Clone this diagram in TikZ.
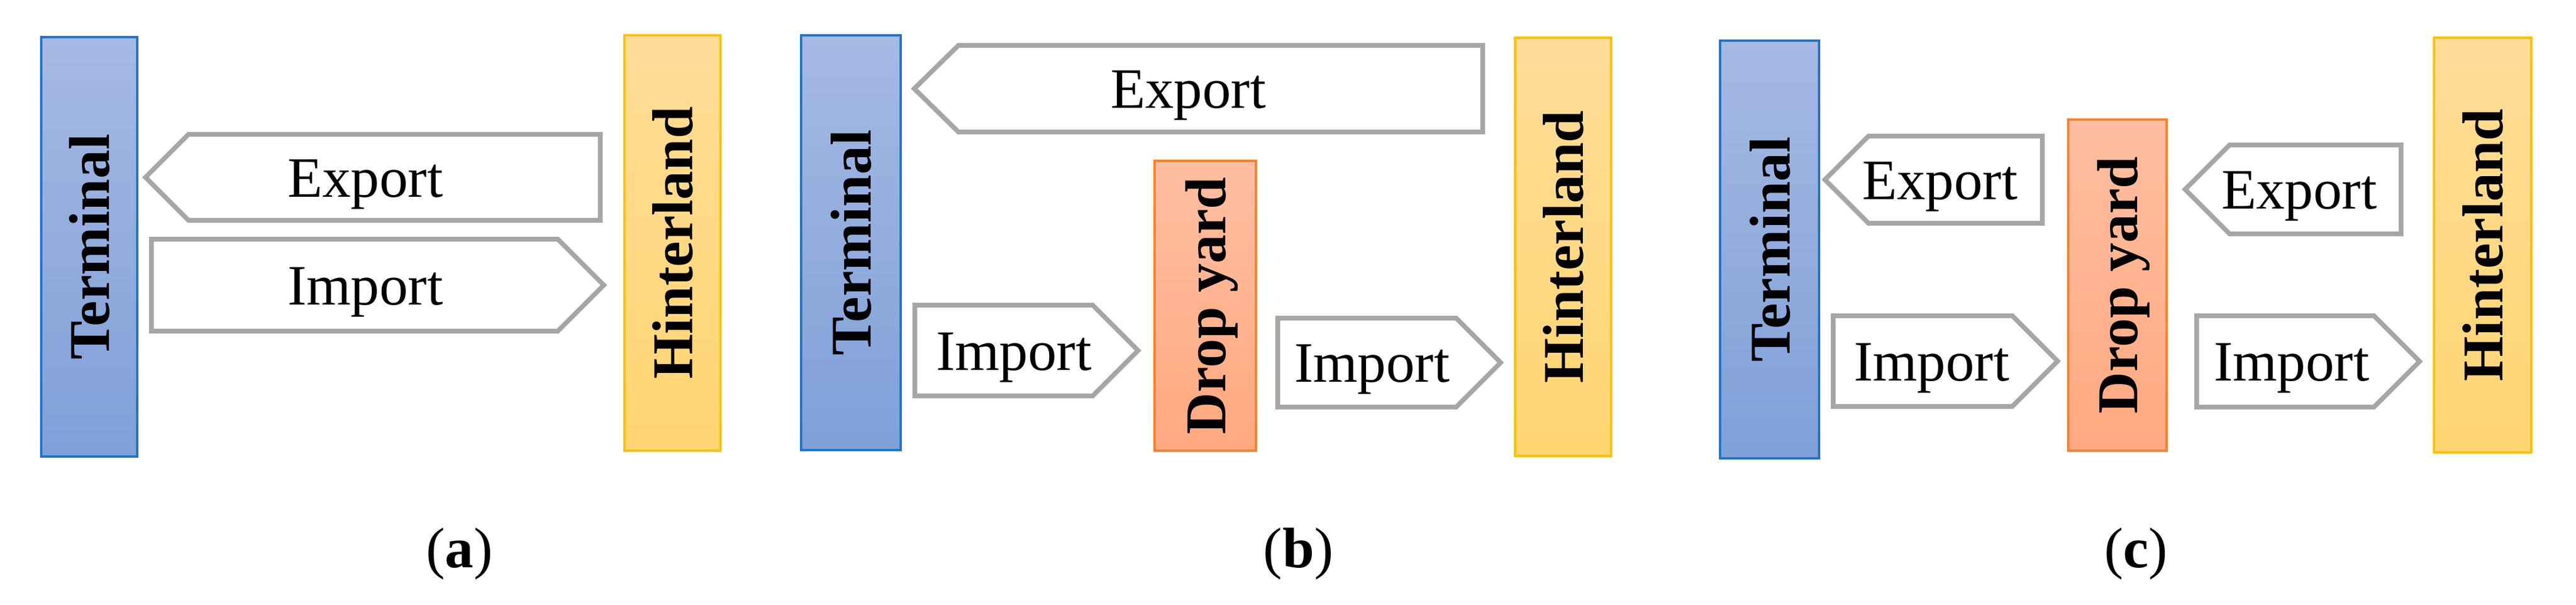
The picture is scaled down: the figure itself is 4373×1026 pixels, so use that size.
\documentclass[tikz,border=0pt]{standalone}
\usepackage{fontspec}
\setmainfont{Liberation Serif}
\usepackage{tikz}

\definecolor{termtop}{HTML}{A6B9E3}
\definecolor{termbot}{HTML}{7FA0D8}
\definecolor{termline}{HTML}{1F74CC}
\definecolor{hinttop}{HTML}{FFDD98}
\definecolor{hintbot}{HTML}{FFD571}
\definecolor{hintline}{HTML}{FFC000}
\definecolor{droptop}{HTML}{FFBEA1}
\definecolor{dropbot}{HTML}{FFA97F}
\definecolor{dropline}{HTML}{FF7F27}
\definecolor{flowgray}{HTML}{A6A6A6}

\newcommand{\vtext}[1]{\rotatebox{90}{\raisebox{0pt}[\height][0pt]{#1}}}

\begin{document}
\begin{tikzpicture}
  [x=1pt,y=-1pt,
   yard node/.style={rectangle,line width=4pt,inner sep=0pt,font=\fontsize{98}{118}\selectfont\bfseries},
   term node/.style={yard node,draw=termline,top color=termtop,bottom color=termbot},
   hint node/.style={yard node,draw=hintline,top color=hinttop,bottom color=hintbot},
   drop node/.style={yard node,draw=dropline,top color=droptop,bottom color=dropbot},
   flow arrow/.style={draw=flowgray,line width=8pt,fill=white},
   flow text/.style={anchor=base,inner sep=0pt,font=\fontsize{97}{116}\selectfont}]

  \fill[white] (0,0) rectangle (4373,1026);
  \useasboundingbox (0,0) rectangle (4373,1026);

  % (a) terminal -- hinterland
  \node[term node,minimum width=163pt,minimum height=712pt] (term a) at (151.5,419) {\vtext{Terminal}};
  \node[hint node,minimum width=163pt,minimum height=705pt] (hint a) at (1141.5,412.5) {\vtext{Hinterland}};

  \draw[flow arrow] (247,301) -- (320,228) -- (1019,228) -- (1019,374) -- (320,374) -- cycle;
  \draw[flow arrow] (257,406) -- (947,406) -- (1025,484) -- (947,562) -- (257,562) -- cycle;
  \node[flow text] (exp a) at (620,334) {Export};
  \node[flow text] (imp a) at (620,517) {Import};

  \node[flow text] (cap a) at (780,963) {(\textbf{a})};

  % (b) import through the drop yard
  \node[term node,minimum width=169pt,minimum height=704pt] (term b) at (1444.5,412) {\vtext{Terminal}};
  \node[drop node,minimum width=172pt,minimum height=492pt] (drop b) at (2046,519) {\vtext{Drop yard}};
  \node[hint node,minimum width=163pt,minimum height=710pt] (hint b) at (2653.5,419) {\vtext{Hinterland}};

  \draw[flow arrow] (1552,150.5) -- (1627,77) -- (2517,77) -- (2517,224) -- (1627,224) -- cycle;
  \draw[flow arrow] (1553,518) -- (1855,518) -- (1932,595) -- (1855,672) -- (1553,672) -- cycle;
  \draw[flow arrow] (2169,540) -- (2472,540) -- (2547.5,615.5) -- (2472,691) -- (2169,691) -- cycle;
  \node[flow text] (exp b) at (2017,183.5) {Export};
  \node[flow text] (imp b1) at (1721,628) {Import};
  \node[flow text] (imp b2) at (2329,648.5) {Import};

  \node[flow text] (cap b) at (2204,963) {(\textbf{b})};

  % (c) import and export through the drop yard
  \node[term node,minimum width=168pt,minimum height=709pt] (term c) at (3004,423.5) {\vtext{Terminal}};
  \node[drop node,minimum width=167pt,minimum height=562pt] (drop c) at (3594.5,484) {\vtext{Drop yard}};
  \node[hint node,minimum width=165pt,minimum height=704pt] (hint c) at (4214.5,416) {\vtext{Hinterland}};

  \draw[flow arrow] (3098,305) -- (3172,231) -- (3467,231) -- (3467,379) -- (3172,379) -- cycle;
  \draw[flow arrow] (3709.5,321.5) -- (3785,246) -- (4076,246) -- (4076,397) -- (3785,397) -- cycle;
  \draw[flow arrow] (3112,536) -- (3416,536) -- (3493,613) -- (3416,690) -- (3112,690) -- cycle;
  \draw[flow arrow] (3729,536) -- (4030,536) -- (4107.5,613.5) -- (4030,691) -- (3729,691) -- cycle;
  \node[flow text] (exp c1) at (3293,338) {Export};
  \node[flow text] (exp c2) at (3903,354.5) {Export};
  \node[flow text] (imp c1) at (3279,646) {Import};
  \node[flow text] (imp c2) at (3890,646.5) {Import};

  \node[flow text] (cap c) at (3626,963) {(\textbf{c})};

\end{tikzpicture}
\end{document}
